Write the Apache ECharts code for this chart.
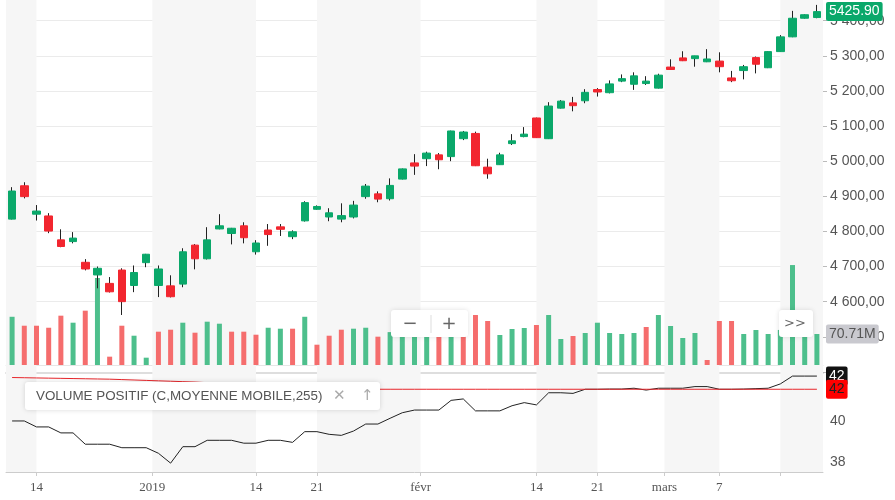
<!DOCTYPE html>
<html>
<head>
<meta charset="utf-8">
<title>CAC 40</title>
<style>
  html, body { margin: 0; padding: 0; background: #fff; }
  #main { width: 895px; height: 500px; }
</style>
</head>
<body>
<div id="main"></div>
<script src="https://cdn.jsdelivr.net/npm/echarts@6/dist/echarts.min.js"></script>
<script>
// séances du 12/12/2018 au 19/03/2019
var dates = [
  '2018-12-12','2018-12-13','2018-12-14','2018-12-17','2018-12-18','2018-12-19','2018-12-20','2018-12-21','2018-12-24','2018-12-27','2018-12-28','2018-12-31',
  '2019-01-02','2019-01-03','2019-01-04','2019-01-07','2019-01-08','2019-01-09','2019-01-10','2019-01-11','2019-01-14','2019-01-15','2019-01-16','2019-01-17',
  '2019-01-18','2019-01-21','2019-01-22','2019-01-23','2019-01-24','2019-01-25','2019-01-28','2019-01-29','2019-01-30','2019-01-31',
  '2019-02-01','2019-02-04','2019-02-05','2019-02-06','2019-02-07','2019-02-08','2019-02-11','2019-02-12','2019-02-13','2019-02-14','2019-02-15',
  '2019-02-18','2019-02-19','2019-02-20','2019-02-21','2019-02-22','2019-02-25','2019-02-26','2019-02-27','2019-02-28',
  '2019-03-01','2019-03-04','2019-03-05','2019-03-06','2019-03-07','2019-03-08','2019-03-11','2019-03-12','2019-03-13','2019-03-14','2019-03-15','2019-03-18','2019-03-19'
];
var opens  = [4835,4930,4849,4844,4776,4771,4712,4676,4652,4690,4646,4711,4646,4645,4650,4761,4722,4807,4794,4816,4742,4804,4813,4785,4830,4863,4841,4835,4841,4899,4907,4893,4949,4995,5007,5018,5013,5064,5079,4983,4990,5050,5070,5123,5064,5151,5166,5172,5204,5195,5228,5219,5221,5208,5268,5294,5292,5283,5285,5237,5258,5295,5266,5312,5354,5407,5409];
var closes = [4915,4899,4858,4801,4757,4781,4693,4695,4628,4600,4683,4735,4693,4614,4742,4722,4776,4816,4809,4782,4767,4791,4806,4799,4882,4871,4853,4845,4875,4929,4892,4931,4978,4986,5023,5004,5086,5083,4987,4964,5018,5058,5077,5067,5157,5171,5158,5196,5197,5220,5235,5243,5228,5245,5261,5286,5300,5291,5269,5229,5269,5276,5312,5354,5407,5417,5425.90];
var lows   = [4834,4894,4831,4795,4755,4766,4689,4638,4626,4562,4627,4698,4613,4612,4641,4692,4720,4806,4763,4766,4734,4759,4787,4778,4828,4862,4829,4826,4837,4893,4883,4888,4948,4961,4986,4977,5000,5060,4986,4950,4990,5046,5068,5066,5063,5150,5142,5165,5184,5193,5225,5203,5217,5207,5260,5285,5269,5282,5253,5225,5233,5250,5265,5311,5353,5406,5407];
var highs  = [4926,4940,4875,4852,4806,4798,4721,4700,4670,4695,4703,4736,4703,4675,4752,4764,4812,4849,4810,4826,4775,4821,4821,4803,4886,4874,4866,4880,4887,4935,4914,4951,4979,5020,5027,5023,5087,5086,5084,5007,5024,5077,5097,5124,5168,5174,5183,5205,5208,5230,5247,5253,5242,5249,5290,5313,5300,5319,5310,5257,5274,5298,5313,5359,5428,5418,5445];
// volume en millions
var volumes = [110,89.6,89.6,85,112.5,96.5,123.9,198.5,19,89.6,66.8,16.7,76,80.5,96.5,73.7,98.8,94.2,76,76,69.1,85,82.8,82.8,110,46.3,66.8,80.5,82.8,85,64.6,75,100,90,85,80,110,70,114,100.4,68.4,82.1,84.4,91.2,114,59.3,66.1,73,96.5,73,70.7,73,86.7,114,89,61.6,73,11.4,100.4,100.4,70.7,79.8,70.7,80,228,65,70.71];
// volume positif et sa moyenne mobile 255
var pvi = [40.0,40.0,39.71,39.71,39.42,39.42,38.87,38.87,38.87,38.70,38.70,38.70,38.43,37.95,38.75,38.75,39.06,39.06,39.06,38.92,38.92,39.06,39.06,38.96,39.48,39.48,39.35,39.30,39.51,39.85,39.85,40.13,40.40,40.53,40.53,40.53,41.00,41.07,40.49,40.49,40.49,40.74,40.89,40.78,41.37,41.37,41.34,41.54,41.54,41.55,41.55,41.59,41.50,41.59,41.59,41.59,41.67,41.67,41.54,41.54,41.55,41.57,41.59,41.80,42.18,42.18,42.18];
var pviMa = [42.11,42.10,42.09,42.08,42.07,42.06,42.05,42.04,42.03,42.01,41.99,41.97,41.95,41.93,41.91,41.89,41.86,41.83,41.80,41.77,41.74,41.71,41.68,41.65,41.62,41.60,41.58,41.56,41.55,41.54,41.54,41.54,41.54,41.54,41.54,41.54,41.54,41.54,41.54,41.54,41.54,41.54,41.54,41.54,41.54,41.54,41.54,41.54,41.54,41.54,41.54,41.54,41.54,41.54,41.54,41.54,41.54,41.54,41.54,41.54,41.54,41.54,41.54,41.54,41.54,41.54,41.54];
// graduations de l'axe du temps (en rang de séance)
var tickPos = [2, 11.5, 20, 25, 33.5, 43, 48, 53.5, 58, 63];
var tickLabels = ['14', '2019', '14', '21', 'févr', '14', '21', 'mars', '7', ''];
var pviTicks = [38, 40, 42];

var GREEN = '#0aa86a', RED = '#f2262f';
var VGREEN = '#4dbf8c', VRED = '#f56d6d';
var SANS = '"Liberation Sans", Arial, sans-serif';

function frPrice(v) {
  var s = v.toFixed(2).split('.');
  return s[0].replace(/\B(?=(\d{3})+(?!\d))/g, ' ') + ',' + s[1];
}

var last = dates.length - 1;
var wicks = [], bodies = [], volData = [];
for (var i = 0; i < dates.length; i++) {
  wicks.push([opens[i], closes[i], lows[i], highs[i]]);
  bodies.push([opens[i], closes[i], Math.min(opens[i], closes[i]), Math.max(opens[i], closes[i])]);
  var up = i === 0 ? closes[0] >= opens[0] : closes[i] >= closes[i - 1];
  volData.push({ value: volumes[i], itemStyle: { color: up ? VGREEN : VRED } });
}

var edges = [-0.5].concat(tickPos, [last + 0.5]);
var bands = [];
for (var b = 0; b < edges.length - 1; b += 2) {
  bands.push([{ xAxis: edges[b] }, { xAxis: edges[b + 1] }]);
}

function endLabel(value, text, bg, fg) {
  return {
    symbol: 'none', silent: true, animation: false,
    lineStyle: { color: 'rgba(0,0,0,0)' },
    label: {
      position: 'end', distance: 3, formatter: text,
      backgroundColor: bg, color: fg, padding: [3, 3, 2, 3], borderRadius: 2,
      fontSize: 14, fontFamily: SANS
    },
    data: [{ yAxis: value }]
  };
}

var grids = [
  { left: 6, right: 72, top: -14.42, height: 386.3 },   // cours
  { left: 6, right: 72, top: 255.4, height: 109.6 },    // volume
  { left: 6, right: 72, top: 373, height: 99 },         // volume positif
  { left: 6, right: 72, top: 0, height: 472 }           // bandes + axe du temps
];
grids.forEach(function (g) { g.outerBoundsMode = 'none'; g.containLabel = false; });

var myChart = echarts.init(document.getElementById('main'));
var option = {
  animation: false,
  backgroundColor: '#fff',
  grid: grids,
  xAxis: [
    { type: 'category', gridIndex: 0, data: dates, show: false },
    { type: 'category', gridIndex: 1, data: dates,
      axisLine: { lineStyle: { color: '#e6e6e6' } }, axisTick: { show: false }, axisLabel: { show: false } },
    { type: 'category', gridIndex: 2, data: dates, position: 'top',
      axisLine: { lineStyle: { color: '#dedede', width: 2 } }, axisTick: { show: false }, axisLabel: { show: false } },
    { type: 'value', gridIndex: 3, min: -0.5, max: last + 0.5,
      axisLine: { lineStyle: { color: '#cccccc' } },
      axisTick: { customValues: tickPos, length: 4, lineStyle: { color: '#cccccc' } },
      axisLabel: {
        customValues: tickPos, margin: 9, color: '#555', fontSize: 13,
        fontFamily: '"Liberation Serif", "DejaVu Serif", serif',
        formatter: function (v) {
          for (var k = 0; k < tickPos.length; k++) if (Math.abs(tickPos[k] - v) < 1e-6) return tickLabels[k];
          return '';
        }
      },
      splitLine: { show: false }
    }
  ],
  yAxis: [
    { type: 'value', gridIndex: 0, position: 'right', min: 4400, max: 5500, interval: 100,
      axisLine: { show: false },
      axisTick: { show: true, length: 4, lineStyle: { color: '#bbbbbb' } },
      axisLabel: { margin: 7, color: '#555', fontSize: 14, fontFamily: SANS,
        formatter: function (v) { return (v < 4500 || v > 5400) ? '' : frPrice(v); } },
      splitLine: { show: true, lineStyle: { color: ['#dedede', 'rgba(0,0,0,0)', '#ebebeb', '#ebebeb', '#ebebeb', '#ebebeb', '#ebebeb', '#ebebeb', '#ebebeb', '#ebebeb', '#ebebeb', '#ebebeb'] } }
    },
    { type: 'value', gridIndex: 1, min: 0, max: 250, show: false },
    { type: 'value', gridIndex: 2, position: 'right', min: 37.52, max: 42.33,
      axisLine: { show: false },
      axisTick: { customValues: pviTicks, length: 4, lineStyle: { color: '#bbbbbb' } },
      axisLabel: { customValues: [38, 40], margin: 7, color: '#555', fontSize: 14, fontFamily: SANS },
      splitLine: { show: false }
    },
    { type: 'value', gridIndex: 3, position: 'right', min: 0, max: 1,
      axisLine: { show: true, lineStyle: { color: '#cccccc' } },
      axisTick: { show: false }, axisLabel: { show: false }, splitLine: { show: false }
    }
  ],
  series: [
    { type: 'line', xAxisIndex: 3, yAxisIndex: 3, z: -5, silent: true,
      data: [[-0.5, 0]], showSymbol: false, lineStyle: { opacity: 0 },
      markArea: { silent: true, itemStyle: { color: '#f6f6f6' }, data: bands }
    },
    { type: 'candlestick', name: 'mèches', xAxisIndex: 0, yAxisIndex: 0, data: wicks, barWidth: 1,
      itemStyle: { color: '#222', color0: '#222', borderColor: '#222', borderColor0: '#222', borderWidth: 1 }
    },
    { type: 'candlestick', name: 'CAC 40', xAxisIndex: 0, yAxisIndex: 0, data: bodies, barWidth: 8,
      itemStyle: { color: GREEN, color0: RED, borderColor: GREEN, borderColor0: RED, borderWidth: 1 },
      markLine: endLabel(closes[last], closes[last].toFixed(2), GREEN, '#fff')
    },
    { type: 'bar', name: 'Volume', xAxisIndex: 1, yAxisIndex: 1, data: volData, barWidth: 5,
      markLine: endLabel(volumes[last], volumes[last].toFixed(2) + 'M', '#c9c9cf', '#555')
    },
    { type: 'line', name: 'Volume positif', xAxisIndex: 2, yAxisIndex: 2, data: pvi,
      showSymbol: false, lineStyle: { color: '#222', width: 1 },
      markLine: endLabel(pvi[last], Math.round(pvi[last]).toString(), '#111', '#fff')
    },
    { type: 'line', name: 'Moyenne mobile 255', xAxisIndex: 2, yAxisIndex: 2, data: pviMa,
      showSymbol: false, lineStyle: { color: '#e8262b', width: 1 },
      markLine: endLabel(pviMa[last], Math.round(pviMa[last]).toString(), '#ff0000', '#222')
    }
  ],
  graphic: [
    { type: 'group', left: 25, top: 382, z: 100, children: [
      { type: 'rect', z: 100, shape: { x: 0, y: 0, width: 355, height: 28, r: 3 },
        style: { fill: '#fff', shadowBlur: 5, shadowColor: 'rgba(0,0,0,0.15)' } },
      { type: 'text', z: 101, x: 11, y: 14,
        style: { text: 'VOLUME POSITIF (C,MOYENNE MOBILE,255)', fill: '#555', font: '13.4px "Liberation Sans"', verticalAlign: 'middle' } },
      { type: 'text', z: 101, x: 308, y: 14,
        style: { text: '✕', fill: '#aaa', font: '15px "DejaVu Sans"', verticalAlign: 'middle' } },
      { type: 'text', z: 101, x: 336, y: 14,
        style: { text: '↑', fill: '#aaa', font: '15px "DejaVu Sans"', verticalAlign: 'middle' } }
    ] },
    { type: 'group', left: 391, top: 310, z: 100, children: [
      { type: 'rect', z: 100, shape: { x: 0, y: 0, width: 77, height: 27, r: 3 },
        style: { fill: '#fff', shadowBlur: 5, shadowColor: 'rgba(0,0,0,0.12)' } },
      { type: 'text', z: 101, x: 19, y: 14,
        style: { text: '−', fill: '#666', font: '18px "DejaVu Sans"', align: 'center', verticalAlign: 'middle' } },
      { type: 'line', z: 101, shape: { x1: 40, y1: 5, x2: 40, y2: 23 }, style: { stroke: '#ddd', lineWidth: 1 } },
      { type: 'text', z: 101, x: 58, y: 14,
        style: { text: '+', fill: '#666', font: '18px "DejaVu Sans"', align: 'center', verticalAlign: 'middle' } }
    ] },
    { type: 'group', left: 779, top: 310, z: 100, children: [
      { type: 'rect', z: 100, shape: { x: 0, y: 0, width: 34, height: 27, r: 3 },
        style: { fill: '#fff', shadowBlur: 5, shadowColor: 'rgba(0,0,0,0.12)' } },
      { type: 'text', z: 101, x: 16, y: 14,
        style: { text: '>>', fill: '#666', font: '13px "DejaVu Sans"', align: 'center', verticalAlign: 'middle' } }
    ] }
  ]
};
myChart.setOption(option);
</script>
</body>
</html>
